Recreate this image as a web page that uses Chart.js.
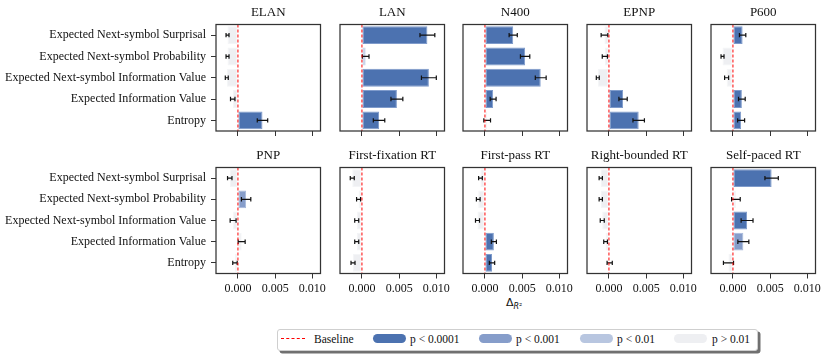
<!DOCTYPE html>
<html>
<head>
<meta charset="utf-8">
<script src="https://cdn.jsdelivr.net/npm/chart.js@4.4.1/dist/chart.umd.min.js"></script>
<style>
    body { margin: 0; background: #fff; width: 830px; height: 358px; position: relative; overflow: hidden; font-family: "Liberation Serif", "Times New Roman", serif; color: #111; }
    canvas { position: absolute; }
    #legend { position: absolute; left: 277px; top: 329px; width: 479px; height: 20px; border: 1px solid #cfcfcf; border-radius: 3px; box-shadow: 2.5px 2.5px 0 #707070; background: #fff; }
    #legend .txt { position: absolute; top: 0; line-height: 19px; font-size: 11.5px; white-space: nowrap; }
    #legend .patch { position: absolute; top: 3.5px; width: 33px; height: 9.5px; border-radius: 5px; }
    #legend .dash { position: absolute; left: 3px; top: 8px; width: 24px; height: 0; border-top: 1.5px dashed #ff0000; }
    #xlabel { position: absolute; left: 506px; top: 296px; font-family: "DejaVu Sans", sans-serif; font-size: 11px; white-space: nowrap; }
    #xlabel .sub { position: relative; top: 3px; font-size: 8px; }
</style>
</head>
<body>
<div id="xlabel">Δ<span class="sub"><i>R</i>²</span></div>
<div id="legend">
    <div class="dash"></div>
    <div class="txt" style="left:36px">Baseline</div>
    <div class="patch" style="left:95px;background:#4c72b0"></div>
    <div class="txt" style="left:132px">p &lt; 0.0001</div>
    <div class="patch" style="left:201px;background:#869dca"></div>
    <div class="txt" style="left:238px">p &lt; 0.001</div>
    <div class="patch" style="left:302px;background:#b8c6e0"></div>
    <div class="txt" style="left:339px">p &lt; 0.01</div>
    <div class="patch" style="left:396px;background:#eeeff2"></div>
    <div class="txt" style="left:434px">p &gt; 0.01</div>
</div>
<script>
// categories (top to bottom)
const features = [
    'Expected Next-symbol Surprisal',
    'Expected Next-symbol Probability',
    'Expected Next-symbol Information Value',
    'Expected Information Value',
    'Entropy'
];
const xTickValues = [0, 0.005, 0.01];

// significance: 0 = p<0.0001, 1 = p<0.001, 2 = p<0.01, 3 = p>0.01
const sigColors = ['#4c72b0', '#869dca', '#b8c6e0', '#eeeff2'];
const sigEdges = ['#7f9bcb', '#a6b8da', '#cbd6ea', '#f4f5f7'];

// values, error half-widths and significance per panel
const elanValues = [-0.0014, -0.0014, -0.0015, -0.0007, 0.0033];
const elanErrors = [0.0002, 0.0002, 0.0002, 0.0003, 0.0007];
const elanSig = [3, 3, 3, 3, 0];

const lanValues = [0.0088, 0.0005, 0.009, 0.0047, 0.0023];
const lanErrors = [0.001, 0.00045, 0.001, 0.0008, 0.00077];
const lanSig = [0, 2, 0, 0, 0];

const n400Values = [0.0038, 0.0054, 0.0075, 0.0011, 0.0003];
const n400Errors = [0.00055, 0.00063, 0.00073, 0.0004, 0.00045];
const n400Sig = [0, 0, 0, 0, 3];

const epnpValues = [-0.0006, -0.00055, -0.0015, 0.0019, 0.004];
const epnpErrors = [0.00045, 0.00035, 0.0002, 0.00056, 0.00077];
const epnpSig = [3, 3, 3, 0, 0];

const p600Values = [0.0013, -0.0014, -0.00085, 0.0012, 0.0011];
const p600Errors = [0.00043, 0.0002, 0.00027, 0.00045, 0.00047];
const p600Sig = [0, 3, 3, 0, 0];

const pnpValues = [-0.0011, 0.0011, -0.00065, 0.0005, -0.0004];
const pnpErrors = [0.0003, 0.00063, 0.0004, 0.00047, 0.0003];
const pnpSig = [3, 1, 3, 3, 3];

const ffixValues = [-0.0013, -0.00045, -0.0007, -0.0007, -0.0012];
const ffixErrors = [0.00027, 0.00027, 0.00027, 0.00027, 0.00027];
const ffixSig = [3, 3, 3, 3, 3];

const fpassValues = [-0.0006, -0.0009, -0.001, 0.0012, 0.00095];
const fpassErrors = [0.00025, 0.00025, 0.00027, 0.00034, 0.00036];
const fpassSig = [3, 3, 3, 0, 0];

const rbValues = [-0.0011, -0.0011, -0.0009, -0.00045, 0.0001];
const rbErrors = [0.00022, 0.00022, 0.00027, 0.00025, 0.00035];
const rbSig = [3, 3, 3, 3, 3];

const sprValues = [0.0052, 0.0004, 0.0019, 0.0014, -0.0006];
const sprErrors = [0.0009, 0.00058, 0.0008, 0.00074, 0.00068];
const sprSig = [0, 3, 0, 1, 3];

const panels = [
    { title: 'ELAN', values: elanValues, errors: elanErrors, sig: elanSig },
    { title: 'LAN', values: lanValues, errors: lanErrors, sig: lanSig },
    { title: 'N400', values: n400Values, errors: n400Errors, sig: n400Sig },
    { title: 'EPNP', values: epnpValues, errors: epnpErrors, sig: epnpSig },
    { title: 'P600', values: p600Values, errors: p600Errors, sig: p600Sig },
    { title: 'PNP', values: pnpValues, errors: pnpErrors, sig: pnpSig },
    { title: 'First-fixation RT', values: ffixValues, errors: ffixErrors, sig: ffixSig },
    { title: 'First-pass RT', values: fpassValues, errors: fpassErrors, sig: fpassSig },
    { title: 'Right-bounded RT', values: rbValues, errors: rbErrors, sig: rbSig },
    { title: 'Self-paced RT', values: sprValues, errors: sprErrors, sig: sprSig }
];

// layout
const plotLefts = [216, 340, 463, 587, 711];
const plotW = 104.5;
const padRight = 10.5;
const serif = '"Liberation Serif", "Times New Roman", serif';

// error bars, red baseline and the box around each panel
const panelDecor = {
    id: 'panelDecor',
    afterDatasetsDraw(chart) {
        const { ctx, chartArea: a, scales: { x, y } } = chart;
        const ds = chart.data.datasets[0];
        ctx.save();
        ctx.strokeStyle = '#111';
        ctx.lineWidth = 1.2;
        ds.data.forEach((v, i) => {
            const e = ds.errors[i];
            const yc = y.getPixelForValue(i);
            const xl = x.getPixelForValue(v - e);
            const xr = x.getPixelForValue(v + e);
            ctx.beginPath();
            ctx.moveTo(xl, yc); ctx.lineTo(xr, yc);
            ctx.moveTo(xl, yc - 2.2); ctx.lineTo(xl, yc + 2.2);
            ctx.moveTo(xr, yc - 2.2); ctx.lineTo(xr, yc + 2.2);
            ctx.stroke();
        });
        const x0 = x.getPixelForValue(0);
        ctx.strokeStyle = 'red';
        ctx.lineWidth = 1;
        ctx.setLineDash([3, 2]);
        ctx.beginPath();
        ctx.moveTo(x0, a.top); ctx.lineTo(x0, a.bottom);
        ctx.stroke();
        ctx.restore();
    },
    afterDraw(chart) {
        const { ctx, chartArea: a } = chart;
        ctx.save();
        ctx.strokeStyle = '#333';
        ctx.lineWidth = 1.25;
        ctx.strokeRect(a.left, a.top, a.right - a.left, a.bottom - a.top);
        ctx.restore();
    }
};

panels.forEach((p, i) => {
    const row = Math.floor(i / 5), col = i % 5;
    const yW = col === 0 ? 216 : 8;
    const w = yW + plotW + padRight;
    const h = row === 0 ? 146 : 161;
    const canvas = document.createElement('canvas');
    canvas.width = w; canvas.height = h;
    canvas.style.width = w + 'px'; canvas.style.height = h + 'px';
    canvas.style.left = (plotLefts[col] - yW) + 'px';
    canvas.style.top = (row === 0 ? 0 : 143) + 'px';
    document.body.appendChild(canvas);

    new Chart(canvas, {
        type: 'bar',
        data: {
            labels: features,
            datasets: [{
                data: p.values,
                errors: p.errors,
                backgroundColor: p.sig.map(s => sigColors[s]),
                borderColor: p.sig.map(s => sigEdges[s]),
                borderWidth: 1,
                borderSkipped: false,
                categoryPercentage: 1,
                barPercentage: 0.84
            }]
        },
        options: {
            indexAxis: 'y',
            responsive: false,
            animation: false,
            layout: { padding: { left: 0, right: padRight, top: 0, bottom: 0.5 } },
            plugins: {
                legend: { display: false },
                tooltip: { enabled: false },
                title: {
                    display: true,
                    text: p.title,
                    fullSize: false,
                    color: '#111',
                    font: { family: serif, size: 13, weight: 'normal' },
                    padding: { top: 5, bottom: 3.9 }
                }
            },
            scales: {
                x: {
                    type: 'linear',
                    min: -0.00295,
                    max: 0.0111,
                    afterBuildTicks: s => { s.ticks = xTickValues.map(v => ({ value: v })); },
                    grid: { drawOnChartArea: false, drawTicks: true, tickLength: 5, tickColor: '#333' },
                    border: { display: false },
                    ticks: {
                        display: row === 1,
                        padding: 3,
                        color: '#111',
                        font: { family: serif, size: 12 },
                        callback: v => Number(v).toFixed(3)
                    },
                    afterFit: s => { s.height = row === 0 ? 14.5 : 30; s.paddingLeft = 0; s.paddingRight = 0; }
                },
                y: {
                    type: 'category',
                    offset: true,
                    grid: { display: col === 0, offset: false, drawOnChartArea: false, drawTicks: col === 0, tickLength: 5, tickColor: '#333' },
                    border: { display: false },
                    ticks: {
                        display: col === 0,
                        padding: 5,
                        color: '#111',
                        font: { family: serif, size: 12 }
                    },
                    afterFit: s => { s.width = yW; s.paddingTop = 0; s.paddingBottom = 0; }
                }
            }
        },
        plugins: [panelDecor]
    });
});
</script>
</body>
</html>
